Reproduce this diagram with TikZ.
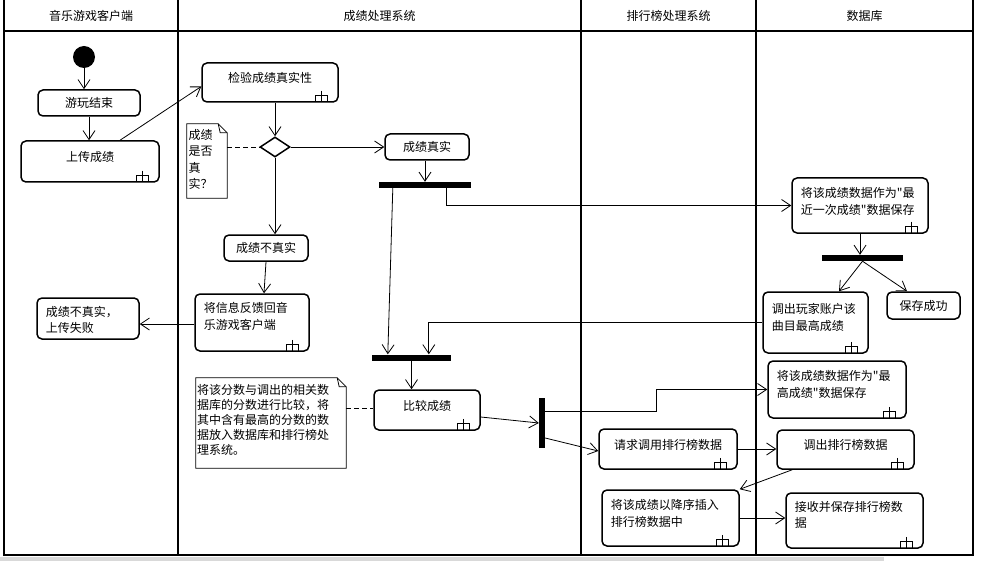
\documentclass[tikz,border=0pt]{standalone}
\usepackage{fontspec}
\setmainfont{Noto Sans CJK SC}[Ligatures=TeXOff]
\usetikzlibrary{arrows.meta,calc,shapes.geometric}
\tikzset{
  actbox/.style={draw, line width=1.5pt, rounded corners=5pt, inner sep=0pt},
  txt/.style={font=\fontsize{12pt}{16.5pt}\selectfont, inner sep=0pt, align=left},
  arr/.style={line width=0.8pt, -{Straight Barb[length=9pt,width=12pt]}},
  dashline/.style={line width=0.8pt, dash pattern=on 5pt off 3pt},
  barst/.style={fill=black, draw=none, inner sep=0pt},
  lane/.style={line width=1.8pt},
  notest/.style={line width=0.8pt},
  rakest/.style={line width=1.4pt},
  hdr/.style={font=\fontsize{12pt}{14pt}\selectfont, inner sep=0pt}
}
\newcommand\abox[5]{\node[actbox, minimum width={(#4-#2)*1pt}, minimum height={(#5-#3)*1pt}] (#1) at ({(#2+#4)/2},{(#3+#5)/2}) {};}
\newcommand\ctext[3]{\node[txt] (#1-t) at ([yshift=#2]#1.center) {#3};}
\newcommand\ltext[3]{\node[txt, anchor=west] (#1-t) at ([xshift=9.5pt,yshift=#2]#1.west) {#3};}
\newcommand\rake[1]{\draw[rakest] ([shift={(-17,-12)}]#1.south east) -- ++(0,11)
   ([shift={(-23,-1)}]#1.south east) -- ++(0,-6) -- ++(12,0) -- ++(0,6);}
\begin{document}
\begin{tikzpicture}[x=1pt,y=-1pt]
\useasboundingbox (0,0) rectangle (981,561);
\fill[gray!30] (0,557) rectangle (884,561);
% lanes
\draw[lane] (4,0) -- (4,555) -- (973,555) -- (973,0);
\draw[lane] (178,0) -- (178,555);
\draw[lane] (581,0) -- (581,555);
\draw[lane] (756,0) -- (756,555);
\draw[lane] (4,31) -- (973,31);
\node[hdr] (h1) at (91,16) {音乐游戏客户端};
\node[hdr] (h2) at (379.5,16) {成绩处理系统};
\node[hdr] (h3) at (668.5,16) {排行榜处理系统};
\node[hdr] (h4) at (864.5,16) {数据库};

% initial
\node[circle, fill=black, minimum size=22pt, inner sep=0pt] (init) at (84,57) {};

% boxes
\abox{play}{38}{90}{140}{116}   \ctext{play}{0pt}{游玩结束}
\abox{upload}{21}{141}{159}{182} \ctext{upload}{4.5pt}{上传成绩} \rake{upload}
\abox{check}{202}{63}{338}{102} \ctext{check}{4.5pt}{检验成绩真实性} \rake{check}
\node[diamond, draw, line width=1.5pt, inner sep=0pt, minimum width=30pt, minimum height=20pt] (dia) at (275,147) {};
\abox{real}{385}{134}{469}{160} \ctext{real}{0pt}{成绩真实}
\abox{fake}{224}{235}{308}{261} \ctext{fake}{0pt}{成绩不真实}
\abox{feedback}{195}{294}{309}{351} \ltext{feedback}{6pt}{将信息反馈回音\\乐游戏客户端} \rake{feedback}
\abox{fail}{37}{298}{139}{339} \ltext{fail}{-1.5pt}{成绩不真实，\\上传失败}
\abox{compare}{374}{390}{480}{430} \ctext{compare}{4.5pt}{比较成绩} \rake{compare}
\abox{request}{599}{429}{737}{469} \ctext{request}{4.5pt}{请求调用排行榜数据} \rake{request}
\abox{fetch}{777}{430}{914}{469} \ctext{fetch}{4.5pt}{调出排行榜数据} \rake{fetch}
\abox{insert}{602}{490}{739}{546} \ltext{insert}{4.5pt}{将该成绩以降序插入\\排行榜数据中} \rake{insert}
\abox{receive}{786}{493}{923}{548} \ltext{receive}{5.5pt}{接收并保存排行榜数\\据} \rake{receive}
\abox{recent}{792}{178}{928}{233} \ltext{recent}{4pt}{将该成绩数据作为"最\\近一次成绩"数据保存} \rake{recent}
\abox{hs}{763}{292}{868}{353} \ltext{hs}{5pt}{调出玩家账户该\\曲目最高成绩} \rake{hs}
\abox{saved}{887}{292}{960}{319} \ctext{saved}{0pt}{保存成功}
\abox{maxsave}{768}{361}{906}{418} \ltext{maxsave}{5pt}{将该成绩数据作为"最\\高成绩"数据保存} \rake{maxsave}

% bars
\node[barst, minimum width=92pt, minimum height=6pt] (bar1) at (425,185) {};
\node[barst, minimum width=79pt, minimum height=6pt] (bar2) at (411.5,357.5) {};
\node[barst, minimum width=6pt, minimum height=50pt] (bar3) at (542,423) {};
\node[barst, minimum width=81pt, minimum height=6pt] (bar4) at (862.5,258) {};

% notes
\node[inner sep=0pt, minimum width=40pt, minimum height=74pt] (note1) at (207,161) {};
\draw[notest] (note1.north west) -- ([xshift=-9pt]note1.north east) -- ([yshift=-9pt]note1.north east) -- (note1.south east) -- (note1.south west) -- cycle;
\draw[notest] ([xshift=-9pt]note1.north east) -- ([shift={(-7,9)}]note1.north east) -- ([yshift=-9pt]note1.north east);
\node[txt, font=\fontsize{12pt}{16.3pt}\selectfont, anchor=west] (note1-t) at ([xshift=1.5pt,yshift=1.5pt]note1.west) {成绩\\是否\\真\\实？};

\node[inner sep=0pt, minimum width=150pt, minimum height=90pt] (note2) at (271,423) {};
\draw[notest] (note2.north west) -- ([xshift=-9pt]note2.north east) -- ([yshift=-9pt]note2.north east) -- (note2.south east) -- (note2.south west) -- cycle;
\draw[notest] ([xshift=-9pt]note2.north east) -- ([shift={(-7,9)}]note2.north east) -- ([yshift=-9pt]note2.north east);
\node[txt, font=\fontsize{12pt}{15pt}\selectfont, anchor=west] (note2-t) at ([xshift=1pt,yshift=3pt]note2.west) {将该分数与调出的相关数\\据库的分数进行比较，将\\其中含有最高的分数的数\\据放入数据库和排行榜处\\理系统。};

% connectors
\draw[arr] (init) -- (init |- play.north);
\draw[arr] (play.south) -- (play.south |- upload.north);
\draw[arr] ([xshift=30pt]upload.north) -- ([yshift=-4pt]check.west);
\draw[arr] (check.south -| dia.north) -- (dia.north);
\draw[arr] (dia.east) -- (dia.east -| real.west);
\draw[arr] (dia.south) -- (dia.south |- fake.north);
\draw[dashline] (dia.west -| note1.east) -- (dia.west);
\draw[arr] (fake.south) -- ([xshift=12pt]feedback.north);
\draw[arr] ([yshift=-1.5pt]feedback.west) -- ([yshift=-1.5pt]feedback.west -| fail.east);
\draw[arr] ([xshift=-2pt]real.south) -- ([xshift=-2pt]real.south |- bar1.north);
\draw[arr] ([xshift=14pt]bar1.south west) -- ([xshift=16pt]bar2.north west);
\draw[arr] ([xshift=68pt]bar1.south west) |- (recent.west);
\draw[arr] (recent.south) -- (recent.south |- bar4.north);
\draw[arr] (bar4.south) -- ([xshift=23.5pt]hs.north);
\draw[arr] (bar4.south) -- ([xshift=-16.5pt]saved.north);
\draw[arr] (hs.west) -| ([xshift=57pt]bar2.north west);
\draw[arr] (bar2.south) -- (bar2.south |- compare.north);
\draw[dashline] ([yshift=2pt]compare.west -| note2.east) -- ([yshift=2pt]compare.west);
\draw[arr] ([yshift=-7pt]compare.east) -- (bar3.west);
\draw[arr] ([yshift=12pt]bar3.east) -- ++(111,0) |- (maxsave.west);
\draw[arr] ([yshift=-15pt]bar3.east) -- ([yshift=-2pt]request.west);
\draw[arr] (request.east) -- (request.east -| fetch.west);
\draw[arr] ([xshift=16pt]fetch.south west) -- (insert.north east);
\draw[arr] (insert.east) -- (insert.east -| receive.west);
\end{tikzpicture}
\end{document}
